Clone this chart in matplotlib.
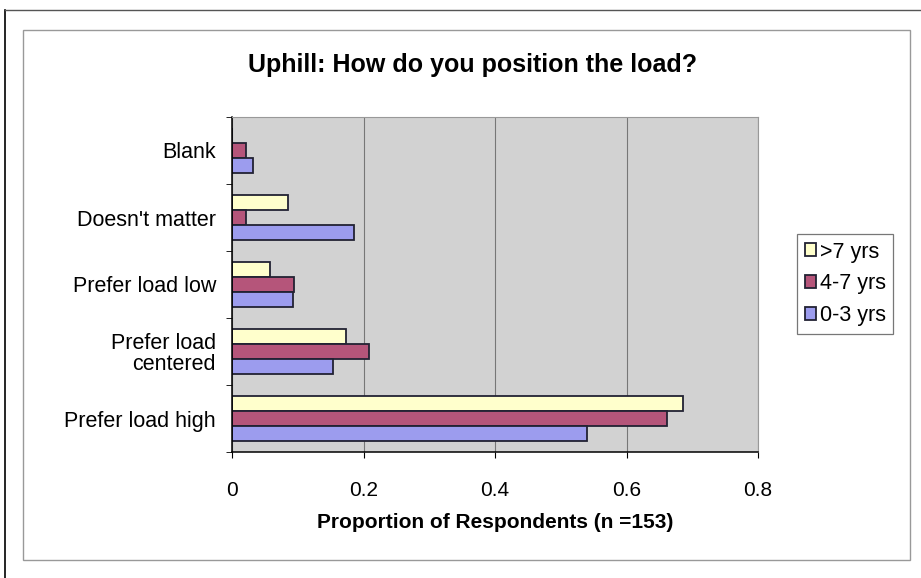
import numpy as np
import matplotlib
matplotlib.use('Agg')
import matplotlib.pyplot as plt
from matplotlib.patches import Rectangle

# Survey answers, top to bottom
categories = ['Blank', "Doesn't matter", 'Prefer load low', 'Prefer load\ncentered', 'Prefer load high']
series_names = ['>7 yrs', '4-7 yrs', '0-3 yrs']
over_7 = [0.0, 0.085, 0.058, 0.173, 0.686]
yrs_4_7 = [0.021, 0.021, 0.094, 0.208, 0.662]
yrs_0_3 = [0.032, 0.186, 0.093, 0.154, 0.540]
colors = ['#FFFFCC', '#B5557A', '#9C9CEE']

plt.rcParams['font.family'] = ['Liberation Sans', 'DejaVu Sans']

W, H = 921, 578
fig = plt.figure(figsize=(W / 100, H / 100), dpi=100)
fig.patch.set_facecolor('white')

# outer frame lines and chart-area box
fig.add_artist(plt.Line2D([5 / W, 5 / W], [0, 1 - 10 / H], color='black', lw=1.2))
fig.add_artist(plt.Line2D([5 / W, 1], [1 - 10 / H, 1 - 10 / H], color='#555555', lw=1.0))
fig.add_artist(Rectangle((23 / W, 1 - 560 / H), (910 - 23) / W, (560 - 30) / H,
                         transform=fig.transFigure, fill=False, edgecolor='#999999', lw=1.0))

ax = fig.add_axes([232 / W, 1 - 452 / H, (758 - 232) / W, (452 - 117) / H])
ax.set_facecolor('#D2D2D2')

y = np.arange(len(categories))
h = 0.224
series = [over_7, yrs_4_7, yrs_0_3]
for i, (vals, name, c) in enumerate(zip(series, series_names, colors)):
    ax.barh(y + (i - 1) * h, vals, height=h, color=c, edgecolor='#222233',
            linewidth=1.3, label=name)

ax.set_ylim(len(categories) - 0.5, -0.5)
ax.set_xlim(0, 0.8)
ax.set_xticks([0, 0.2, 0.4, 0.6, 0.8])
ax.set_xticklabels(['0', '0.2', '0.4', '0.6', '0.8'], fontsize=15)
ax.set_yticks(y)
ax.set_yticklabels(categories, fontsize=15.5, linespacing=1.0)
ax.set_yticks(np.arange(-0.5, len(categories), 1), minor=True)
ax.tick_params(axis='y', which='major', length=0, pad=11.5)
ax.tick_params(axis='y', which='minor', length=4, direction='out')
ax.tick_params(axis='x', length=4, direction='out', pad=17)
ax.grid(axis='x', color='#777777', lw=0.8)
ax.set_axisbelow(True)

for side in ['top', 'right']:
    ax.spines[side].set_color('#999999')
for side in ['left', 'bottom']:
    ax.spines[side].set_color('black')
    ax.spines[side].set_linewidth(1.1)

ax.set_xlabel('Proportion of Respondents (n =153)', fontsize=15, fontweight='bold', va='center')
ax.xaxis.set_label_coords(0.5, (452 - 523) / (452 - 117))
fig.text(473 / W, 1 - 65 / H, 'Uphill: How do you position the load?',
         ha='center', va='center', fontsize=18, fontweight='bold')

leg = fig.legend(loc='upper left', bbox_to_anchor=(797 / W, 1 - 234 / H),
                 fontsize=15.5, frameon=True, fancybox=False, edgecolor='#555555',
                 handlelength=0.55, handleheight=0.55, handletextpad=0.15,
                 labelspacing=0.5, borderpad=0.35, borderaxespad=0)
leg.get_frame().set_linewidth(0.9)

fig.savefig('out.png', dpi=100)
